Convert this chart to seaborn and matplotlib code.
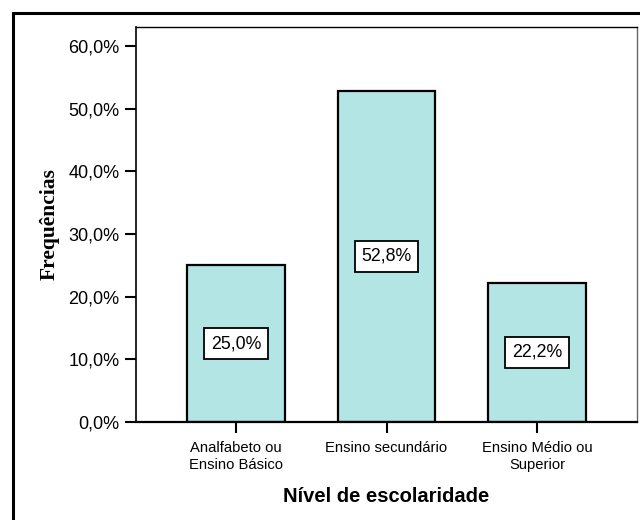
import matplotlib
matplotlib.use("Agg")
import matplotlib.pyplot as plt
from matplotlib.patches import Rectangle
from matplotlib.ticker import FuncFormatter, MultipleLocator
import seaborn as sns
import pandas as pd

categorias = ["Analfabeto ou\nEnsino Básico", "Ensino secundário", "Ensino Médio ou\nSuperior"]
frequencias = [25.0, 52.8, 22.2]
rotulos = ["25,0%", "52,8%", "22,2%"]

df = pd.DataFrame({"nivel": categorias, "freq": frequencias})

sns.set_style("white")
plt.rcParams['font.family'] = ['Liberation Sans', 'DejaVu Sans']
plt.rcParams['text.color'] = 'black'
plt.rcParams['axes.labelcolor'] = 'black'
plt.rcParams['xtick.color'] = 'black'
plt.rcParams['ytick.color'] = 'black'

fig = plt.figure(figsize=(6.4, 5.2), dpi=100)
ax = fig.add_axes([136 / 640, 1 - 422 / 520, (637 - 136) / 640, (422 - 27) / 520])

sns.barplot(data=df, x="nivel", y="freq", color="#b3e5e5", saturation=1,
            edgecolor="black", linewidth=1.6, width=0.65, ax=ax)

# rótulos com caixa no meio das barras
for i, (v, t) in enumerate(zip(frequencias, rotulos)):
    ax.text(i, v / 2, t, ha="center", va="center", fontsize=12.8,
            bbox=dict(boxstyle="square,pad=0.38", fc="white", ec="black", lw=1.3))

ax.set_ylim(0, 63)
ax.set_xlim(-0.664, 2.664)
ax.yaxis.set_major_locator(MultipleLocator(10))
ax.yaxis.set_major_formatter(FuncFormatter(lambda y, p: ("%.1f%%" % y).replace(".", ",")))

for s in ax.spines.values():
    s.set_visible(True)
    s.set_color("black")
    s.set_linewidth(1.0)
ax.spines["bottom"].set_linewidth(1.6)
ax.spines["left"].set_linewidth(1.2)
ax.spines["right"].set_color("#666666")

ax.tick_params(axis="both", direction="out", length=8, width=1.5, color="black",
               bottom=True, left=True)
ax.tick_params(axis="y", labelsize=13, pad=4)
ax.tick_params(axis="x", labelsize=10.6, pad=6)

ax.set_xlabel("Nível de escolaridade", fontsize=14.5, fontweight="bold", labelpad=11)
ax.set_ylabel("Frequências", fontsize=15.5, fontweight="bold",
              family=["Liberation Serif", "DejaVu Serif"], labelpad=6)

# moldura externa grossa
fig.patches.append(Rectangle((12.5 / 640, -0.1), 1.2, 1 - 12.5 / 520 + 0.1,
                             transform=fig.transFigure, fill=False,
                             ec="black", lw=2.2))

fig.savefig("out.png", dpi=100)
